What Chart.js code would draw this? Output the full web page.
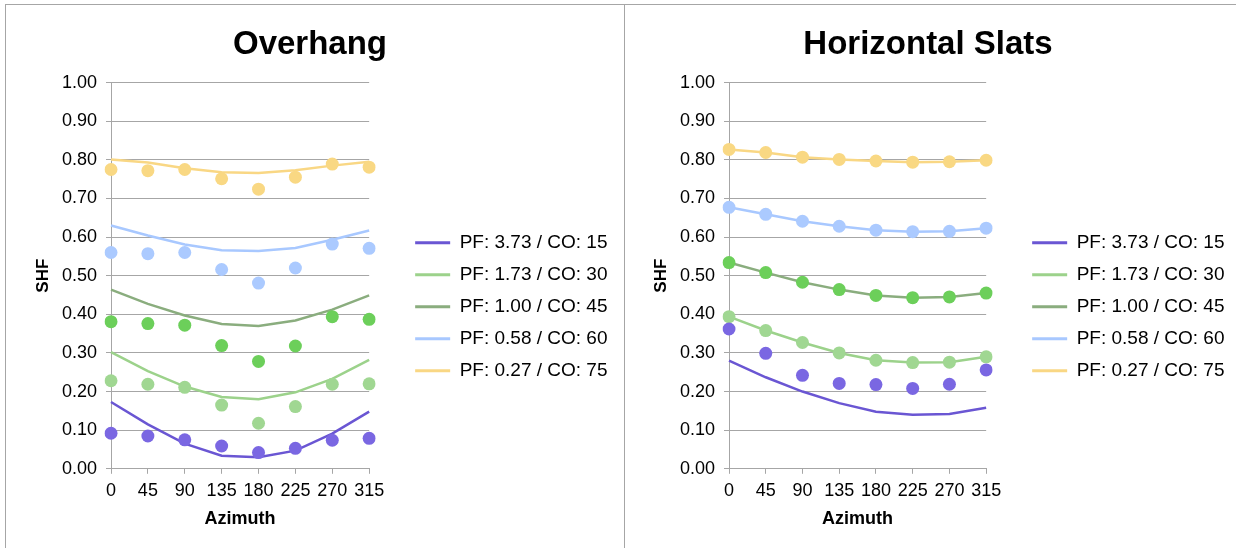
<!DOCTYPE html>
<html>
<head>
<meta charset="utf-8">
<script src="https://cdn.jsdelivr.net/npm/chart.js@4/dist/chart.umd.min.js"></script>
<style>
body { margin: 0; background: #fff; width: 1236px; height: 548px; overflow: hidden; position: relative; }
#frame { position: absolute; left: 5px; top: 4px; width: 1240px; height: 560px; border-left: 1px solid #a6a6a6; border-top: 1px solid #a6a6a6; }
#divider { position: absolute; left: 624px; top: 4px; width: 1px; height: 560px; background: #a6a6a6; }
.box { position: absolute; top: 6px; }
#boxL { left: 0px; }
#boxR { left: 620px; }
</style>
</head>
<body>
<div class="box" id="boxL"><canvas id="overhangChart" width="623" height="542"></canvas></div>
<div class="box" id="boxR"><canvas id="slatsChart" width="616" height="542"></canvas></div>
<div id="frame"></div>
<div id="divider"></div>
<script>
var azimuths = ['0', '45', '90', '135', '180', '225', '270', '315'];
var seriesNames = ['PF: 3.73 / CO: 15', 'PF: 1.73 / CO: 30', 'PF: 1.00 / CO: 45', 'PF: 0.58 / CO: 60', 'PF: 0.27 / CO: 75'];

// Overhang - trend lines
var ovLine15 = [0.173, 0.115, 0.065, 0.034, 0.030, 0.047, 0.091, 0.148];
var ovLine30 = [0.302, 0.253, 0.213, 0.186, 0.180, 0.198, 0.233, 0.282];
var ovLine45 = [0.464, 0.427, 0.397, 0.375, 0.370, 0.384, 0.412, 0.449];
var ovLine60 = [0.630, 0.604, 0.581, 0.566, 0.564, 0.572, 0.593, 0.617];
var ovLine75 = [0.801, 0.793, 0.778, 0.768, 0.766, 0.773, 0.785, 0.795];
// Overhang - points
var ovPts15 = [0.092, 0.085, 0.075, 0.059, 0.042, 0.053, 0.074, 0.079];
var ovPts30 = [0.228, 0.219, 0.211, 0.165, 0.118, 0.161, 0.219, 0.220];
var ovPts45 = [0.381, 0.376, 0.372, 0.319, 0.278, 0.318, 0.394, 0.387];
var ovPts60 = [0.560, 0.557, 0.560, 0.516, 0.481, 0.520, 0.582, 0.571];
var ovPts75 = [0.775, 0.772, 0.775, 0.751, 0.724, 0.755, 0.789, 0.781];

// Horizontal slats - trend lines
var hsLine15 = [0.280, 0.237, 0.200, 0.170, 0.148, 0.140, 0.142, 0.158];
var hsLine30 = [0.394, 0.358, 0.327, 0.300, 0.281, 0.275, 0.276, 0.290];
var hsLine45 = [0.534, 0.508, 0.483, 0.464, 0.449, 0.443, 0.445, 0.455];
var hsLine60 = [0.677, 0.659, 0.641, 0.628, 0.618, 0.614, 0.615, 0.623];
var hsLine75 = [0.827, 0.819, 0.807, 0.801, 0.797, 0.794, 0.795, 0.799];
// Horizontal slats - points
var hsPts15 = [0.362, 0.299, 0.242, 0.221, 0.218, 0.208, 0.219, 0.256];
var hsPts30 = [0.394, 0.358, 0.327, 0.300, 0.281, 0.275, 0.276, 0.290];
var hsPts45 = [0.534, 0.508, 0.483, 0.464, 0.449, 0.443, 0.445, 0.455];
var hsPts60 = [0.677, 0.659, 0.641, 0.628, 0.618, 0.614, 0.615, 0.623];
var hsPts75 = [0.827, 0.819, 0.807, 0.801, 0.797, 0.794, 0.795, 0.799];

var lineColors = ['#6a56d3', '#9cd28b', '#8aad7e', '#a8c8ff', '#f9d784'];
var dotColors = ['#7a67e2', '#a0d792', '#6ccf5a', '#abcaff', '#f9d883'];
var gridColor = '#a6a6a6';

Chart.defaults.font.family = '"Liberation Sans", Arial, sans-serif';
Chart.defaults.color = '#000';

function makeConfig(title, lines, pts, pad, shfPad, yWidth) {
    var datasets = [];
    // points first so they sit on top of the lines
    pts.forEach(function(d, i) {
        datasets.push({
            label: seriesNames[i] + ' pts',
            data: d,
            showLine: false,
            pointRadius: 6.5,
            pointHoverRadius: 6.5,
            pointBorderWidth: 0,
            pointBackgroundColor: dotColors[i],
            order: 0
        });
    });
    lines.forEach(function(d, i) {
        datasets.push({
            label: seriesNames[i],
            data: d,
            borderColor: lineColors[i],
            backgroundColor: lineColors[i],
            borderWidth: 2.5,
            pointRadius: 0,
            fill: false,
            tension: 0,
            order: 1
        });
    });
    return {
        type: 'line',
        data: { labels: azimuths, datasets: datasets },
        options: {
            responsive: false,
            animation: false,
            layout: { padding: { left: pad[0], right: pad[1], top: 0, bottom: 18 } },
            plugins: {
                title: {
                    display: true,
                    text: title,
                    font: { size: 33, weight: 'bold' },
                    color: '#000',
                    padding: { top: 19, bottom: 18 }
                },
                legend: {
                    position: 'right',
                    maxWidth: 260,
                    title: { display: true, text: '', font: { size: 12 }, padding: { top: 0, bottom: 63 } },
                    labels: {
                        boxWidth: 35,
                        boxHeight: 3,
                        padding: 13,
                        font: { size: 19 },
                        color: '#000',
                        generateLabels: function() {
                            return seriesNames.map(function(n, i) {
                                return { text: n, fillStyle: lineColors[i], strokeStyle: lineColors[i], lineWidth: 0, hidden: false, datasetIndex: 5 + i };
                            });
                        }
                    }
                },
                tooltip: { enabled: false }
            },
            scales: {
                x: {
                    offset: false,
                    grid: { display: true, drawOnChartArea: false, tickLength: 5, color: gridColor },
                    border: { color: gridColor },
                    ticks: { font: { size: 18 }, padding: 6, maxRotation: 0, autoSkip: false },
                    title: { display: true, text: 'Azimuth', font: { size: 18, weight: 'bold' }, padding: { top: 1, bottom: 0 } }
                },
                y: {
                    min: 0,
                    max: 1,
                    grid: { color: gridColor, tickLength: 5 },
                    border: { color: gridColor },
                    ticks: { stepSize: 0.1, font: { size: 18 }, padding: 9, callback: function(v) { return v.toFixed(2); } },
                    title: { display: true, text: 'SHF', font: { size: 17, weight: 'bold' }, padding: { top: shfPad, bottom: 3 } },
                    afterFit: function(s) { s.width = yWidth; }
                },
                // spacer between plot and legend
                y2: {
                    position: 'right',
                    ticks: { display: false },
                    grid: { display: false },
                    border: { display: false },
                    afterFit: function(s) { s.width = 33; }
                }
            }
        }
    };
}

window.onload = function() {
    new Chart(document.getElementById('overhangChart').getContext('2d'),
        makeConfig('Overhang', [ovLine15, ovLine30, ovLine45, ovLine60, ovLine75], [ovPts15, ovPts30, ovPts45, ovPts60, ovPts75], [2.5, 5.5], 30.5, 108.5));
    new Chart(document.getElementById('slatsChart').getContext('2d'),
        makeConfig('Horizontal Slats', [hsLine15, hsLine30, hsLine45, hsLine60, hsLine75], [hsPts15, hsPts30, hsPts45, hsPts60, hsPts75], [1.5, 1.5], 29.5, 107.5));
};
</script>
</body>
</html>
